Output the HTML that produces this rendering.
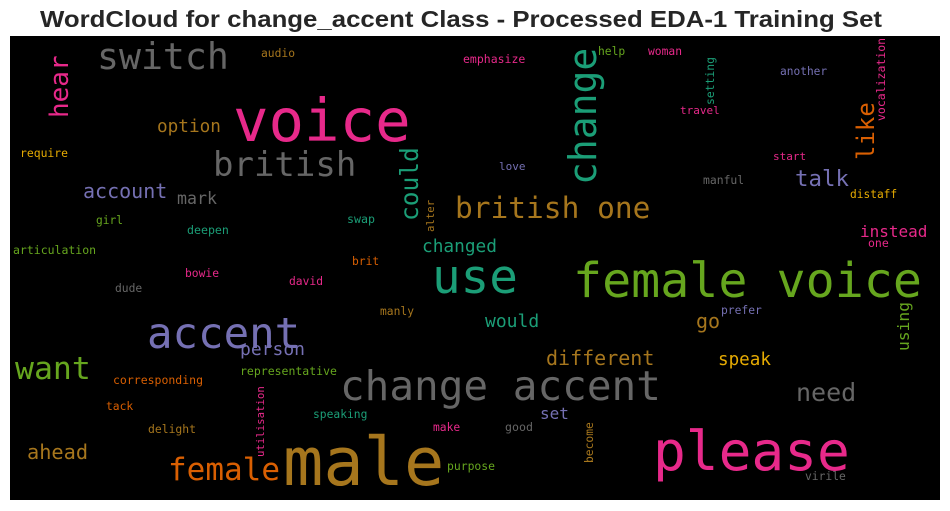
<!DOCTYPE html>
<html><head><meta charset="utf-8">
<style>
html,body{margin:0;padding:0;background:#fff;}
svg{display:block;}
</style></head>
<body>
<svg id="chart" width="950" height="511" viewBox="0 0 950 511" xmlns="http://www.w3.org/2000/svg">
  <text x="461" y="27" text-anchor="middle" font-family="Liberation Sans, sans-serif" font-weight="bold" font-size="23" fill="#262626" textLength="842" lengthAdjust="spacingAndGlyphs">WordCloud for change_accent Class - Processed EDA-1 Training Set</text>
  <rect x="10" y="36" width="930" height="464" fill="#000"/>
  <g id="words"></g>
</svg>
<script>
const words = ["switch","audio","hear","voice","option","require","british","account","mark","could","girl","deepen","swap","alter","articulation","changed","brit","use","british one","change","emphasize","help","woman","setting","another","vocalization","travel","like","start","love","talk","manful","distaff","instead","one","female voice","would","go","prefer","using","different","speak","change accent","need","set","good","become","please","virile","purpose","make","speaking","utilisation","representative","accent","person","want","corresponding","tack","delight","ahead","female","male","dude","bowie","david","manly"];
const weights = [36.5,11.3,26,59,17.7,11.4,34,20,16.6,24.5,11.2,11.6,11.6,10.7,11.5,17.8,11.3,47.6,29.5,38,11.5,11.3,11.3,11.4,11.2,11.5,11,24,11,11,22.4,11.4,11.2,16,11.5,48.3,18,20,11.3,16.3,20,17.6,41,25,16,11.6,11.3,54.5,11.3,11.4,11.3,11.3,10.7,11.5,42.4,18,31.5,11.5,11.3,11.4,20.3,31,67,11.3,11.3,11.3,11.3];
const colorKeys = ["gray","brown","pink","pink","brown","yellow","gray","purple","gray","teal","green","teal","teal","brown","green","teal","orange","teal","brown","teal","pink","green","pink","teal","purple","pink","pink","orange","pink","purple","purple","gray","yellow","pink","pink","green","teal","brown","purple","green","brown","yellow","gray","gray","purple","gray","brown","pink","gray","green","pink","teal","pink","green","purple","purple","green","orange","orange","brown","brown","orange","brown","gray","pink","pink","brown"];
const palette = {gray:"#666666",brown:"#a6761d",pink:"#e7298a",teal:"#1b9e77",green:"#66a61e",orange:"#d95f02",purple:"#7570b3",yellow:"#e6ab02"};
// layout: anchor x, baseline y, vertical flag
const layoutX = [97,261,68,233,157,20,213,83,177,418,96,187,347,434,13,422,352,432,455,596,463,598,648,714,780,885,680,874,773,499,795,703,850,860,868,573,485,696,721,909,546,718,340,796,540,505,593,653,805,447,433,313,264,240,147,240,15,113,106,148,27,168,283,115,185,289,380];
const layoutY = [69,57,118,141,132,157,176,198,204,221,224,234,223,232,254,252,265,293,218,185,63,55,55,105,75,121,114,160,160,170,186,184,198,237,247,297,327,328,314,351,365,365,400,401,419,431,463,470,480,470,431,418,457,375,348,355,379,384,410,433,459,480,485,292,277,285,315];
const vertical = [0,0,1,0,0,0,0,0,0,1,0,0,0,1,0,0,0,0,0,1,0,0,0,1,0,1,0,1,0,0,0,0,0,0,0,0,0,0,0,1,0,0,0,0,0,0,1,0,0,0,0,0,1,0,0,0,0,0,0,0,0,0,0,0,0,0,0];

const g = document.getElementById('words');
const NS = "http://www.w3.org/2000/svg";
for (let i = 0; i < words.length; i++) {
  const t = document.createElementNS(NS, 'text');
  
  
  t.setAttribute('font-family', 'DejaVu Sans Mono, Liberation Mono, monospace');
  t.setAttribute('font-size', weights[i]);
  t.setAttribute('fill', palette[colorKeys[i]]);
  if (vertical[i]) {
    t.setAttribute('transform', 'translate(' + layoutX[i] + ',' + layoutY[i] + ') rotate(-90)');
    t.setAttribute('x', 0);
    t.setAttribute('y', 0);
  } else {
    t.setAttribute('x', layoutX[i]);
    t.setAttribute('y', layoutY[i]);
  }
  t.textContent = words[i];
  g.appendChild(t);
}
</script>
</body></html>
